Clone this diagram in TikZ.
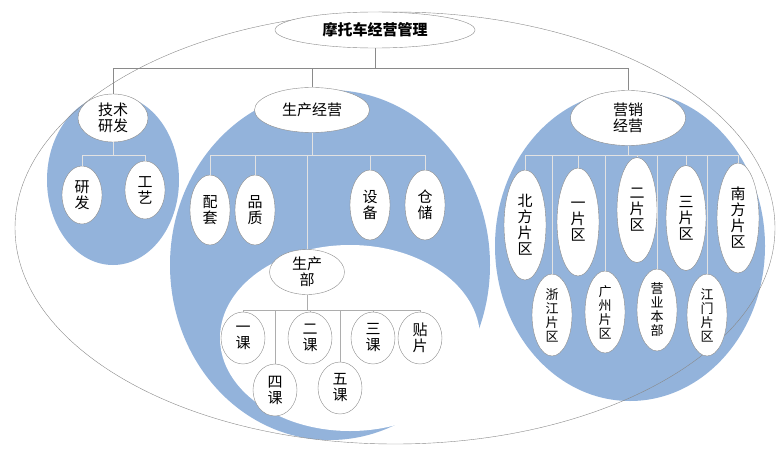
\documentclass[tikz,border=0pt]{standalone}
\usepackage{fontspec}
\setmainfont{Noto Sans CJK SC}
\usetikzlibrary{shapes.geometric}
\definecolor{zoneblue}{HTML}{93B3DB}
\definecolor{linegray}{HTML}{8A8A8A}
\begin{document}
\begin{tikzpicture}[x=1pt, y=-1pt, font=\fontsize{15}{16}\selectfont, align=center,
    unit/.style={ellipse, fill=white, draw=linegray, inner sep=0pt},
    small/.style={font=\fontsize{13}{14}\selectfont},
    tree/.style={draw=white!75!linegray, line width=0.6pt}]
    \useasboundingbox (0,0) rectangle (781,452);
    \fill[white] (0,0) rectangle (781,452);

    % zones
    \fill[zoneblue] (113,180) ellipse [x radius=66pt, y radius=85pt];
    \fill[zoneblue] (330,265) ellipse [x radius=160pt, y radius=175pt];
    \fill[zoneblue] (630,246) ellipse [x radius=135pt, y radius=155pt];
    \fill[white] (350,338) ellipse [x radius=130pt, y radius=93pt];
    \draw[linegray] (395,228) ellipse [x radius=380pt, y radius=216pt];

    % connectors
    \node(root)[unit, minimum width=200pt, minimum height=36pt] at (375,30) {\bfseries 摩托车经营管理};
    \node(tech)[unit, minimum width=70pt, minimum height=48pt] at (113,118) {技术\\研发};
    \node(prod)[unit, minimum width=115pt, minimum height=45pt] at (312,110) {生产经营};
    \node(sale)[unit, minimum width=115pt, minimum height=55pt] at (628,118) {营销\\经营};
    \coordinate(bus) at (375,68);
    \coordinate(techbus) at (113,155);
    \coordinate(prodbus) at (312,155);
    \coordinate(deptbus) at (307,310);
    \coordinate(salebus) at (628,155);

    % tech
    \node(rd)[unit, minimum width=40pt, minimum height=58pt] at (82,195) {研\\发};
    \node(craft)[unit, minimum width=40pt, minimum height=58pt] at (145,190) {工\\艺};

    % production
    \node(match)[unit, minimum width=40pt, minimum height=70pt] at (210,210) {配\\套};
    \node(quality)[unit, minimum width=40pt, minimum height=70pt] at (255,210) {品\\质};
    \node(equip)[unit, minimum width=40pt, minimum height=70pt] at (370,205) {设\\备};
    \node(store)[unit, minimum width=40pt, minimum height=70pt] at (425,205) {仓\\储};
    \node(dept)[unit, minimum width=75pt, minimum height=45pt] at (307,272) {生产\\部};
    \node(c1)[unit, minimum width=44pt, minimum height=52pt] at (243,338) {一\\课};
    \node(c2)[unit, minimum width=44pt, minimum height=52pt] at (310,338) {二\\课};
    \node(c3)[unit, minimum width=44pt, minimum height=52pt] at (373,338) {三\\课};
    \node(smt)[unit, minimum width=44pt, minimum height=52pt] at (420,338) {贴\\片};
    \node(c4)[unit, minimum width=44pt, minimum height=52pt] at (275,390) {四\\课};
    \node(c5)[unit, minimum width=44pt, minimum height=52pt] at (340,388) {五\\课};

    % sales
    \node(north)[unit, minimum width=42pt, minimum height=110pt] at (525,225) {北\\方\\片\\区};
    \node(one)[unit, minimum width=42pt, minimum height=108pt] at (578,222) {一\\片\\区};
    \node(two)[unit, minimum width=40pt, minimum height=105pt] at (637,210) {二\\片\\区};
    \node(three)[unit, minimum width=40pt, minimum height=105pt] at (686,218) {三\\片\\区};
    \node(south)[unit, minimum width=42pt, minimum height=110pt] at (738,218) {南\\方\\片\\区};
    \node(zj)[unit, small, minimum width=40pt, minimum height=82pt] at (552,315) {浙\\江\\片\\区};
    \node(gz)[unit, small, minimum width=40pt, minimum height=82pt] at (605,312) {广\\州\\片\\区};
    \node(hq)[unit, small, minimum width=40pt, minimum height=82pt] at (657,310) {营\\业\\本\\部};
    \node(jm)[unit, small, minimum width=40pt, minimum height=82pt] at (707,315) {江\\门\\片\\区};

    \draw[tree, draw=linegray] (root) -- (bus);
    \foreach \n in {tech, prod, sale}
        \draw[tree, draw=linegray] (bus) -| (\n.north);
    \draw[tree] (tech) -- (techbus);
    \foreach \n in {rd, craft}
        \draw[tree] (techbus) -| (\n.north);
    \draw[tree] (prod) -- (prodbus);
    \foreach \n in {match, quality, equip, store, dept}
        \draw[tree] (prodbus) -| (\n.north);
    \draw[tree, draw=linegray!70] (dept) -- (deptbus);
    \foreach \n in {c1, c2, c3, smt, c4, c5}
        \draw[tree, draw=linegray!70] (deptbus) -| (\n.north);
    \draw[tree] (sale) -- (salebus);
    \foreach \n in {north, one, two, three, south, zj, gz, hq, jm}
        \draw[tree] (salebus) -| (\n.north);
\end{tikzpicture}
\end{document}
